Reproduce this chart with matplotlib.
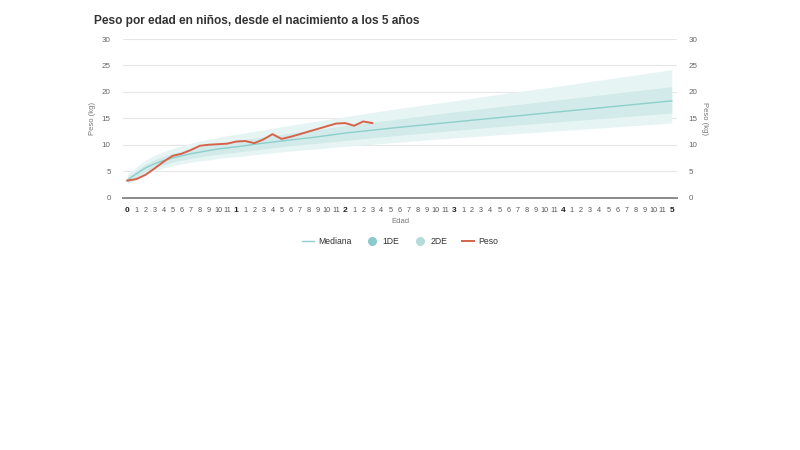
import numpy as np
import matplotlib
matplotlib.use("Agg")
import matplotlib.pyplot as plt
from matplotlib.lines import Line2D

plt.rcParams['font.family'] = ['Liberation Sans', 'DejaVu Sans']

# WHO style reference (months)
meses_ref = [0, 1, 2, 3, 4, 5, 6, 7, 8, 9, 10, 11, 12, 15, 18, 21, 24, 30, 36, 42, 48, 54, 60]
mediana = [3.3, 4.5, 5.6, 6.4, 7.0, 7.5, 7.9, 8.3, 8.6, 8.9, 9.2, 9.4, 9.6, 10.3, 10.9, 11.5, 12.2, 13.3, 14.3, 15.3, 16.3, 17.3, 18.3]
menos1 = [2.9, 3.9, 4.9, 5.7, 6.2, 6.7, 7.1, 7.4, 7.7, 8.0, 8.2, 8.4, 8.6, 9.2, 9.8, 10.3, 10.8, 11.8, 12.7, 13.6, 14.4, 15.2, 16.0]
mas1 = [3.9, 5.1, 6.3, 7.2, 7.8, 8.4, 8.8, 9.2, 9.6, 9.9, 10.2, 10.5, 10.8, 11.5, 12.2, 12.9, 13.6, 14.9, 16.2, 17.4, 18.6, 19.8, 21.0]
menos2 = [2.5, 3.4, 4.3, 5.0, 5.6, 6.0, 6.4, 6.7, 6.9, 7.1, 7.4, 7.6, 7.7, 8.3, 8.8, 9.2, 9.7, 10.5, 11.3, 12.0, 12.7, 13.4, 14.1]
mas2 = [4.4, 5.8, 7.1, 8.0, 8.7, 9.3, 9.8, 10.3, 10.7, 11.0, 11.4, 11.7, 12.0, 12.8, 13.7, 14.5, 15.3, 16.9, 18.3, 19.8, 21.2, 22.7, 24.2]

# child's weight
meses_peso = list(range(0, 28))
peso = [3.2, 3.5, 4.3, 5.5, 6.8, 7.9, 8.3, 9.0, 9.8, 10.0, 10.1, 10.2, 10.6, 10.7,
        10.3, 11.0, 12.0, 11.1, 11.5, 12.0, 12.5, 13.0, 13.5, 14.0, 14.1, 13.6, 14.4, 14.1]

x_labels = []
for m in range(61):
    if m % 12 == 0:
        x_labels.append(str(m // 12))
    else:
        x_labels.append(str(m % 12))

c_med = "#8ccfcb"
c_1de = "#d2eaea"
c_2de = "#e7f4f4"
c_peso = "#d5634a"

fig = plt.figure(figsize=(8, 4.5), dpi=100)
ax = fig.add_axes([0.154, 0.561, 0.6925, 0.3522])

ax.fill_between(meses_ref, menos2, mas2, color=c_2de, lw=0, zorder=1)
ax.fill_between(meses_ref, menos1, mas1, color=c_1de, lw=0, zorder=2)
ax.plot(meses_ref, mediana, color=c_med, lw=1, zorder=3)
ax.plot(meses_peso, peso, color=c_peso, lw=1.4, zorder=4, solid_joinstyle='round')

ax.set_xlim(-0.45, 60.6)
ax.set_ylim(0, 30)
ax.set_yticks(range(0, 31, 5))
ax.grid(axis='y', color='#e6e6e6', lw=0.8, zorder=0)
ax.set_axisbelow(True)
for s in ['top', 'right', 'left']:
    ax.spines[s].set_visible(False)
ax.spines['bottom'].set_color('#8a8a8a')
ax.spines['bottom'].set_linewidth(1.4)
ax.spines['bottom'].set_zorder(5)

ax.tick_params(axis='y', length=0, labelsize=5.8, labelcolor='#666666', pad=9)
ax.set_xticks(range(61))
ax.set_xticklabels(x_labels)
ax.tick_params(axis='x', length=0, labelsize=5.2, labelcolor='#555555', pad=7)
for i, t in enumerate(ax.get_xticklabels()):
    if i % 12 == 0:
        t.set_fontweight('bold')
        t.set_color('#222222')
        t.set_fontsize(6)

ax.set_ylabel("Peso (kg)", fontsize=5.5, color='#777777', labelpad=4)
ax.set_xlabel("Edad", fontsize=5.5, color='#777777', labelpad=3)

ax2 = ax.twinx()
ax2.set_ylim(0, 30)
ax2.set_yticks(range(0, 31, 5))
for s in ['top', 'right', 'left', 'bottom']:
    ax2.spines[s].set_visible(False)
ax2.tick_params(axis='y', length=0, labelsize=5.8, labelcolor='#666666', pad=8)
ax2.set_ylabel("Peso (kg)", fontsize=5.5, color='#777777', rotation=-90, labelpad=8)

fig.text(0.1175, 0.953, "Peso por edad en niños, desde el nacimiento a los 5 años",
         fontsize=8.6, fontweight='bold', color='#333333', va='center')

handles = [
    Line2D([], [], color=c_med, lw=1),
    Line2D([], [], color='#8cc9cb', marker='o', ls='', markersize=5.5),
    Line2D([], [], color='#b5dcdb', marker='o', ls='', markersize=5.5),
    Line2D([], [], color=c_peso, lw=1.4),
]
fig.legend(handles, ["Mediana", "1DE", "2DE", "Peso"], loc='center',
           bbox_to_anchor=(0.5, 0.463), ncol=4, frameon=False, fontsize=6.2,
           handlelength=1.4, columnspacing=1.7, handletextpad=0.5,
           labelcolor='#333333')

fig.savefig("out.png", dpi=100)
